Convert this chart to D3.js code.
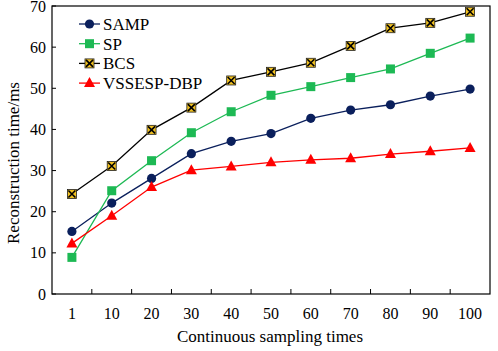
<!DOCTYPE html>
<html><head><meta charset="utf-8">
<script src="https://cdn.jsdelivr.net/npm/d3@7"></script>
<style>body{margin:0;background:#fff}svg{display:block}text{font-family:"Liberation Serif","Times New Roman",serif}</style>
</head><body>
<svg id="c" width="498" height="351"></svg>
<script>
const categories = ["1","10","20","30","40","50","60","70","80","90","100"];
const seriesNames = ["SAMP","SP","BCS","VSSESP-DBP"];
const samp = [15.2,22.1,28.1,34.1,37.1,39.0,42.7,44.7,46.0,48.1,49.8];
const sp   = [8.9,25.1,32.4,39.2,44.3,48.3,50.4,52.6,54.7,58.5,62.2];
const bcs  = [24.3,31.1,39.9,45.3,51.9,54.0,56.2,60.3,64.6,65.9,68.6];
const vss  = [12.3,19.0,26.0,30.1,31.0,32.0,32.6,33.0,34.0,34.7,35.5];
const yTicks = [0,10,20,30,40,50,60,70];

const colors = ["#0a1f5c","#1db954","#000000","#ff0000"];
const values = [samp, sp, bcs, vss];
const markers = ["circle","square","bcs","triangle"];

const svg = d3.select("#c");
const m = {l:52, r:8, t:6, b:57};
const W = 498, H = 351;
const x = d3.scaleBand().domain(categories).range([m.l, W-m.r]).paddingInner(0).paddingOuter(0);
const y = d3.scaleLinear().domain([0,70]).range([H-m.b, m.t]);

svg.append("rect").attr("x",m.l).attr("y",m.t).attr("width",W-m.r-m.l).attr("height",H-m.b-m.t)
  .attr("fill","none").attr("stroke","#000").attr("stroke-width",1.2);

const gx = svg.append("g");
categories.slice(1).forEach(c=>{
  const xx = x(c);
  gx.append("line").attr("x1",xx).attr("x2",xx).attr("y1",H-m.b).attr("y2",H-m.b-5).attr("stroke","#000").attr("stroke-width",1);
});
categories.forEach(c=>{
  gx.append("text").attr("x",x(c)+x.bandwidth()/2).attr("y",H-m.b+25).attr("text-anchor","middle")
    .attr("font-size",16).text(c);
});
const gy = svg.append("g");
yTicks.forEach(v=>{
  gy.append("line").attr("x1",m.l).attr("x2",m.l+4).attr("y1",y(v)).attr("y2",y(v)).attr("stroke","#000");
  gy.append("text").attr("x",m.l-6).attr("y",y(v)).attr("dy","0.35em").attr("text-anchor","end")
    .attr("font-size",16).text(v);
});
svg.append("text").attr("x",270).attr("y",342).attr("text-anchor","middle").attr("font-size",17)
  .text("Continuous sampling times");
svg.append("text").attr("transform",`translate(19,163) rotate(-90)`).attr("text-anchor","middle")
  .attr("font-size",17).text("Reconstruction time/ms");

function drawMarker(g, type, cx, cy, color){
  if(type==="circle") g.append("circle").attr("cx",cx).attr("cy",cy).attr("r",4.6).attr("fill",color);
  else if(type==="square") g.append("rect").attr("x",cx-4.5).attr("y",cy-4.5).attr("width",9).attr("height",9).attr("fill",color);
  else if(type==="triangle") g.append("path").attr("d",`M${cx},${cy-6}L${cx+5.5},${cy+4}L${cx-5.5},${cy+4}Z`).attr("fill",color);
  else {
    g.append("rect").attr("x",cx-4.5).attr("y",cy-4.5).attr("width",9).attr("height",9).attr("fill","#f0c020").attr("stroke","#222").attr("stroke-width",0.8);
    g.append("path").attr("d",`M${cx-3.5},${cy-3.5}L${cx+3.5},${cy+3.5}M${cx+3.5},${cy-3.5}L${cx-3.5},${cy+3.5}`).attr("stroke","#000").attr("stroke-width",1.6);
  }
}

const line = d3.line().x((d,i)=>x(categories[i])+x.bandwidth()/2).y(d=>y(d));
values.forEach((vals,k)=>{
  const g = svg.append("g");
  g.append("path").datum(vals).attr("d",line).attr("fill","none").attr("stroke",colors[k]).attr("stroke-width",1.3);
  vals.forEach((v,i)=>drawMarker(g, markers[k], x(categories[i])+x.bandwidth()/2, y(v), colors[k]));
});

const lg = svg.append("g");
seriesNames.forEach((n,k)=>{
  const yy = 24 + k*19.7;
  lg.append("line").attr("x1",79).attr("x2",100).attr("y1",yy).attr("y2",yy).attr("stroke",colors[k]).attr("stroke-width",1.3);
  drawMarker(lg, markers[k], 89.5, yy, colors[k]);
  lg.append("text").attr("x",103).attr("y",yy).attr("dy","0.35em").attr("font-size",17).text(n);
});
</script>
</body></html>
